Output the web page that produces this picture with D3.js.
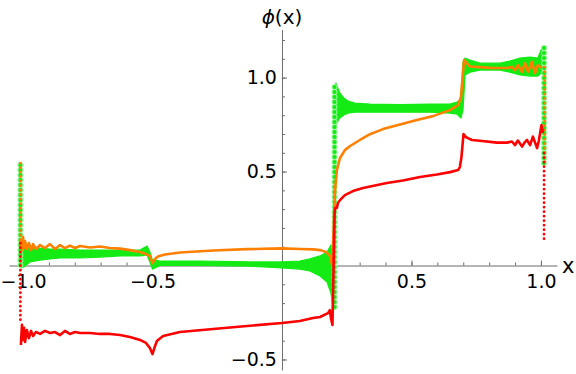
<!DOCTYPE html>
<html>
<head>
<meta charset="utf-8">
<script src="https://cdn.jsdelivr.net/npm/d3@7"></script>
<style>
  body { margin: 0; background: #fff; }
  #chart { width: 576px; height: 374px; }
  .tick text { font-family: "DejaVu Sans", sans-serif; font-size: 19px; fill: #000; }
</style>
</head>
<body>
<div id="chart"></div>
<script>
// ---- data ----
// red curve [x, phi]
const redPts = [
  [-1.008,-0.423],[-1.004,-0.316],[-1.000,-0.396],[-0.996,-0.332],[-0.992,-0.407],[-0.985,-0.343],
  [-0.977,-0.386],[-0.969,-0.348],[-0.961,-0.375],[-0.950,-0.354],[-0.934,-0.364],[-0.915,-0.348],
  [-0.896,-0.359],[-0.876,-0.354],[-0.857,-0.370],[-0.838,-0.348],[-0.819,-0.364],[-0.799,-0.354],
  [-0.780,-0.359],[-0.741,-0.359],[-0.703,-0.364],[-0.664,-0.364],[-0.625,-0.370],[-0.587,-0.380],
  [-0.548,-0.396],[-0.525,-0.412],[-0.510,-0.439],[-0.500,-0.471],[-0.490,-0.428],[-0.483,-0.402],
  [-0.459,-0.375],[-0.394,-0.354],[-0.266,-0.338],[-0.135,-0.322],[0.000,-0.306],[0.069,-0.295],
  [0.120,-0.279],[0.147,-0.274],[0.178,-0.253],[0.185,-0.237],[0.189,-0.279],[0.195,-0.316],
  [0.203,0.269],[0.205,0.306],[0.212,0.306],[0.216,0.332],[0.224,0.348],[0.243,0.375],
  [0.274,0.396],[0.313,0.412],[0.405,0.439],[0.467,0.452],[0.533,0.471],[0.598,0.484],
  [0.649,0.497],[0.680,0.508],[0.687,0.524],[0.693,0.577],[0.701,0.699],[0.710,0.684],
  [0.718,0.678],[0.734,0.668],[0.764,0.664],[0.830,0.654],[0.869,0.654],[0.888,0.660],
  [0.900,0.641],[0.911,0.665],[0.927,0.633],[0.938,0.657],[0.946,0.668],[0.958,0.641],
  [0.969,0.686],[0.985,0.625],[0.992,0.665],[1.002,0.747],[1.008,0.705]
];

// orange curve [x, phi]
const orangePts = [
  [-1.008,0.136],[-1.004,0.082],[-1.000,0.152],[-0.996,0.093],[-0.992,0.130],[-0.985,0.088],
  [-0.977,0.120],[-0.969,0.082],[-0.961,0.114],[-0.950,0.088],[-0.934,0.109],[-0.915,0.093],
  [-0.896,0.114],[-0.876,0.088],[-0.857,0.109],[-0.838,0.093],[-0.819,0.106],[-0.799,0.093],
  [-0.780,0.104],[-0.741,0.096],[-0.703,0.101],[-0.664,0.093],[-0.625,0.090],[-0.587,0.082],
  [-0.548,0.072],[-0.525,0.061],[-0.510,0.051],[-0.500,0.013],[-0.490,0.035],[-0.479,0.048],
  [-0.452,0.059],[-0.394,0.069],[-0.266,0.080],[-0.135,0.087],[0.000,0.091],[0.069,0.088],
  [0.120,0.086],[0.147,0.082],[0.170,0.072],[0.185,0.051],[0.195,-0.003],[0.201,0.269],
  [0.205,0.402],[0.212,0.508],[0.224,0.572],[0.243,0.614],[0.263,0.636],[0.301,0.668],
  [0.340,0.699],[0.390,0.726],[0.456,0.750],[0.521,0.774],[0.583,0.795],[0.649,0.827],
  [0.680,0.854],[0.691,0.896],[0.699,1.029],[0.703,1.093],[0.710,1.082],[0.726,1.059],
  [0.764,1.056],[0.803,1.052],[0.869,1.051],[0.888,1.057],[0.900,1.040],[0.911,1.066],
  [0.927,1.031],[0.938,1.077],[0.950,1.031],[0.965,1.084],[0.977,1.024],[0.988,1.066],
  [1.004,1.051]
];

// green curve oscillates hard, so keep its envelope [x, low, high]; null = gap
const greenBand = [
  [-1.008,-0.013,0.109],[-0.992,-0.003,0.093],[-0.973,0.019,0.104],[-0.934,0.029,0.093],
  [-0.896,0.035,0.088],[-0.857,0.040,0.088],[-0.780,0.040,0.082],[-0.703,0.045,0.082],
  [-0.625,0.051,0.082],[-0.548,0.051,0.082],[-0.521,0.056,0.104],[-0.510,0.019,0.072],
  [-0.500,-0.019,0.029],[-0.490,-0.013,0.029],[-0.471,0.000,0.024],[-0.317,0.000,0.024],
  [-0.124,-0.003,0.019],[0.000,-0.013,0.019],[0.069,-0.019,0.024],[0.108,-0.029,0.035],
  [0.147,-0.056,0.051],[0.174,-0.088,0.072],[0.189,-0.146,0.109],[0.197,-0.221,0.082],
  null,
  [0.208,0.747,0.971],[0.216,0.769,0.944],[0.224,0.785,0.918],[0.239,0.801,0.891],
  [0.255,0.811,0.875],[0.282,0.816,0.864],[0.340,0.816,0.859],[0.456,0.816,0.856],
  [0.571,0.816,0.859],[0.649,0.811,0.859],[0.676,0.806,0.870],[0.691,0.785,0.886],
  [0.699,0.827,1.082],[0.707,1.014,1.104],[0.726,1.029,1.093],[0.764,1.040,1.077],
  [0.842,1.040,1.077],[0.880,1.029,1.088],[0.919,1.014,1.104],[0.958,1.008,1.109],
  [0.988,1.008,1.104],[1.004,1.029,1.157]
];

// near-vertical runs of samples drawn as dots: [x, phiFrom, phiTo]
const greenJumps = [[-1.010,0.535,-0.003],[0.203,-0.221,0.971],[1.012,1.157,0.533]];
const orangeJumps = [[-1.010,0.545,0.119],[1.015,1.056,0.545]];
const redJumps = [[-1.010,0.119,-0.290],[1.012,0.598,0.136]];

const xMajor = [-1.0, -0.5, 0.5, 1.0];
const xMajorLabels = ["\u22121.0", "\u22120.5", "0.5", "1.0"];
const yMajor = [-0.5, 0.5, 1.0];
const yMajorLabels = ["\u22120.5", "0.5", "1.0"];
const xMinor = d3.range(-10, 11).map(i => i / 10);
const yMinor = d3.range(-5, 13).map(i => i / 10);

const colRed = "#ff0000", colOrange = "#ff8000", colGreen = "#14ea14", colAxis = "#6b6b6b";

// ---- drawing ----
const W = 576, H = 374;
const svg = d3.select("#chart").append("svg").attr("width", W).attr("height", H);

const x = d3.scaleLinear().domain([-1.054, 1.062]).range([9, 557]);
const y = d3.scaleLinear().domain([-0.556, 1.256]).range([370, 29.5]);

// axes crossing at the origin
const gx = svg.append("g").attr("transform", `translate(0,${y(0)})`);
gx.call(d3.axisBottom(x).tickValues(xMinor).tickSize(-3).tickSizeOuter(0).tickFormat(""));
gx.append("g").call(d3.axisBottom(x).tickValues(xMajor).tickSize(-5).tickSizeOuter(0)
    .tickPadding(9).tickFormat((d, i) => xMajorLabels[i]));

const gy = svg.append("g").attr("transform", `translate(${x(0)},0)`);
gy.call(d3.axisLeft(y).tickValues(yMinor).tickSize(-3).tickSizeOuter(0).tickFormat(""));
gy.append("g").call(d3.axisLeft(y).tickValues(yMajor).tickSize(-5).tickSizeOuter(0)
    .tickPadding(5).tickFormat((d, i) => yMajorLabels[i]));

svg.selectAll(".domain, .tick line").attr("stroke", colAxis).attr("stroke-width", 1);
gx.selectAll(".domain").filter((d, i, n) => n[i].parentNode !== gx.node()).remove();
gy.selectAll(".domain").filter((d, i, n) => n[i].parentNode !== gy.node()).remove();

// axis labels
svg.append("text")
    .attr("x", x(0)).attr("y", 24)
    .attr("text-anchor", "middle")
    .style("font-family", "'DejaVu Sans', sans-serif").style("font-size", "20px")
    .html('<tspan font-style="italic">\u03d5</tspan>(x)');

svg.append("text")
    .attr("x", 562).attr("y", y(0) + 7)
    .style("font-family", "'DejaVu Sans', sans-serif").style("font-size", "21px")
    .text("x");

const plot = svg.append("g");

// green: envelope band
const band = d3.area()
    .defined(d => d !== null)
    .x(d => x(d[0])).y0(d => y(d[1])).y1(d => y(d[2]));
plot.append("path")
    .datum(greenBand)
    .attr("d", band)
    .attr("fill", colGreen)
    .attr("stroke", colGreen)
    .attr("stroke-width", 1.2)
    .attr("stroke-linejoin", "round");

function drawJumps(list, color, width, gap) {
  plot.append("g").selectAll("line").data(list).join("line")
      .attr("x1", d => x(d[0])).attr("x2", d => x(d[0]))
      .attr("y1", d => y(d[1])).attr("y2", d => y(d[2]))
      .attr("stroke", color).attr("stroke-width", width)
      .attr("stroke-linecap", "round")
      .attr("stroke-dasharray", `0,${gap}`);
}
drawJumps(greenJumps, "#9af59a", 6, 5);
drawJumps(greenJumps, colGreen, 4, 5);

const line = d3.line().x(d => x(d[0])).y(d => y(d[1]));

plot.append("path").datum(orangePts).attr("d", line)
    .attr("fill", "none").attr("stroke", colOrange).attr("stroke-width", 2.6)
    .attr("stroke-linejoin", "round");
drawJumps(orangeJumps, colOrange, 2.8, 4.5);

plot.append("path").datum(redPts).attr("d", line)
    .attr("fill", "none").attr("stroke", colRed).attr("stroke-width", 2.6)
    .attr("stroke-linejoin", "round");
drawJumps(redJumps, colRed, 2.8, 4.5);
</script>
</body>
</html>
